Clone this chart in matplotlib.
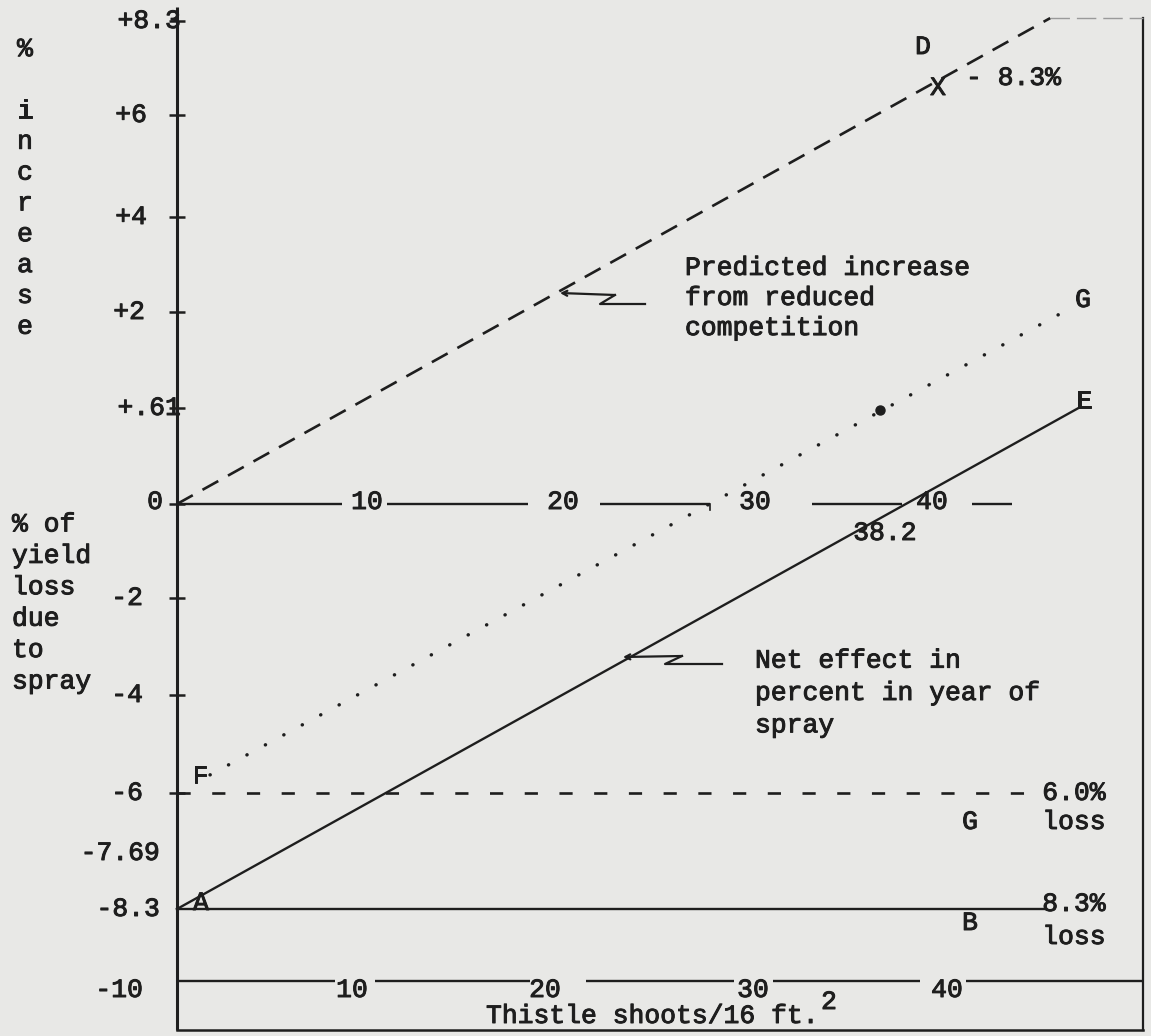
import numpy as np
import matplotlib
matplotlib.use("Agg")
import matplotlib.pyplot as plt
import matplotlib.patheffects as pe

# ---------------- data ----------------
y_tick_values = [8.3, 6, 4, 2, 0.61, 0, -2, -4, -6, -7.69, -8.3, -10]
y_tick_labels = ["+8.3", "+6", "+4", "+2", "+.61", "0", "-2", "-4", "-6", "-7.69", "-8.3", "-10"]
y_tick_marks = [8.3, 6, 4, 2, 0.61, 0, -2, -4, -6]

x_mid_ticks = [10, 20, 30, 40]
x_mid_labels = ["10", "20", "30", "40"]
x_bottom_ticks = [10, 20, 30, 40]
x_bottom_labels = ["10", "20", "30", "40"]

# predicted increase from reduced competition (line D)
pred_x = [0.0, 46.2]
pred_y = [0.0, 8.37]
# net effect in year of spray (line A-E)
net_x = [0.0, 47.7]
net_y = [-8.3, 0.61]
# line F-G
fg_x = [1.75, 46.9]
fg_y = [-5.63, 2.0]
fg_dot = (37.2, 0.6)
# break-even point
breakeven_x = 38.2
# horizontal loss levels
loss_levels = [-6.0, -8.3]
loss_ends = [45.6, 45.9]

# hand-drawn pieces of the two horizontal scale lines (thistle shoots)
zero_segments = [(0, 8.73), (11.11, 18.57), (22.38, 28.2), (33.6, 38.36), (42.06, 44.18)]
bottom_segments = [(0, 8.36), (10.48, 18.68), (21.64, 29.47), (31.53, 39.31), (41.75, 51.1)]

# ---------------- layout / style ----------------
W, H = 1151, 1036
X0, XS = 177.0, 18.9          # pixel of x=0, pixels per shoot
# the typed vertical scale is not uniform: value -> pixel row anchors
y_anchor_vals = [-11.31, -10, -8.3, -7.69, -6, -4, -2, 0, 0.61, 2, 4, 6, 8.3, 8.81]
y_anchor_px = [1036, 981, 909, 853, 793, 695, 598, 504, 408, 312, 217, 115, 21, 0]
_av = np.array(y_anchor_vals)
_ap = -np.array(y_anchor_px, dtype=float)


def fwd(v):
    return np.interp(v, _av, _ap)


def inv(u):
    return np.interp(u, _ap, _av)


def dx(px):
    return (px - X0) / XS


def dy(py):
    return float(inv(-py))


BG = "#e8e8e6"
INK = "#1e1e1e"
FONT = "Liberation Mono"
FS = 19
INKFX = [pe.withStroke(linewidth=0.7, foreground=INK)]

plt.rcParams["lines.scale_dashes"] = False
fig = plt.figure(figsize=(W / 100, H / 100), dpi=100, facecolor=BG)
ax = fig.add_axes([0, 0, 1, 1])
ax.set_facecolor(BG)
ax.set_yscale("function", functions=(fwd, inv))
ax.set_xlim(dx(0), dx(W))
ax.set_ylim(dy(H), dy(0))
for s in ax.spines.values():
    s.set_visible(False)
ax.set_xticks([])
ax.set_yticks([])

TXT = dict(family=FONT, fontsize=FS, color=INK, path_effects=INKFX)


def T(xp, yp, s, ha="center", va="center", **kw):
    fig.text(xp / W, 1 - yp / H, s, ha=ha, va=va, **TXT, **kw)


# frame: y axis, right edge, bottom edge
ax.plot([0, 0], [dy(7), dy(1030)], color=INK, lw=2.2, solid_capstyle="butt")
ax.plot([dx(1143), dx(1143)], [dy(18), dy(1030)], color=INK, lw=1.6)
ax.plot([0, dx(1143)], [dy(1030), dy(1030)], color=INK, lw=1.8)
ax.plot([dx(1050), dx(1143)], [dy(18), dy(18)], color="#9a9a9a", lw=1.0,
        dashes=(14, 5))

# tick marks on the y axis
ax.plot(np.zeros(len(y_tick_marks)), y_tick_marks, ls="none", marker="_",
        ms=11, mew=1.8, color=INK)

# y tick labels (typed, right edges in pixels)
lab_right_px = [181, 147, 147, 145, 181, 163, 143, 143, 143, 160, 160, 143]
lab_dy_px = [0, 0, 0, 0, 0, 2, 0, 0, 0, 0, 0, -9]
for v, s, rp, oy in zip(y_tick_values, y_tick_labels, lab_right_px, lab_dy_px):
    ax.annotate(s, xy=(0, v), xytext=(rp - X0, oy), textcoords="offset pixels",
                ha="right", va="center", **TXT)

# horizontal scale lines at 0 and -10
for a, b in zero_segments:
    ax.plot([a, b], [0, 0], color=INK, lw=1.7, solid_capstyle="butt")
for a, b in bottom_segments:
    ax.plot([a, b], [-10, -10], color=INK, lw=1.7, solid_capstyle="butt")
ax.plot([dx(710), dx(710)], [0, dy(510)], color=INK, lw=1.2)

mid_off = [1, 8, 11, -1]
for v, s, o in zip(x_mid_ticks, x_mid_labels, mid_off):
    ax.annotate(s, xy=(v, 0), xytext=(o, 2), textcoords="offset pixels",
                ha="center", va="center", **TXT)
bot_off = [-14, -10, 9, 14]
for v, s, o in zip(x_bottom_ticks, x_bottom_labels, bot_off):
    ax.annotate(s, xy=(v, -10), xytext=(o, -9), textcoords="offset pixels",
                ha="center", va="center", **TXT)
ax.annotate("38.2", xy=(breakeven_x, 0), xytext=(-14, -29), textcoords="offset pixels",
            ha="center", va="center", **TXT)

# loss levels
ax.plot([0, loss_ends[0]], [loss_levels[0]] * 2, color=INK, lw=1.9, dashes=(9.5, 15.5))
ax.plot([0, loss_ends[1]], [loss_levels[1]] * 2, color=INK, lw=1.7)

# main lines
ax.plot(pred_x, pred_y, color=INK, lw=1.9, dashes=(13, 8))
ax.plot(net_x, net_y, color=INK, lw=1.7)
ax.plot(fg_x, fg_y, color=INK, lw=2.5, dashes=(0.1, 15.0), dash_capstyle="round")
ax.plot([fg_dot[0]], [fg_dot[1]], marker="o", ms=6.5, color=INK, ls="none")

# leader arrows
pred_arrow = [(560, 293), (615, 295), (600, 304), (645, 304)]
net_arrow = [(623, 657), (682, 656), (665, 664), (722, 664)]
for pts in (pred_arrow, net_arrow):
    xs = [dx(p[0]) for p in pts]
    ys = [dy(p[1]) for p in pts]
    ax.plot(xs[1:], ys[1:], color=INK, lw=1.6)
    ax.annotate("", xy=(xs[0], ys[0]), xytext=(xs[1], ys[1]),
                arrowprops=dict(arrowstyle="->,head_length=0.35,head_width=0.18",
                                color=INK, lw=1.6, shrinkA=0, shrinkB=0))

# vertical axis captions
T(25, 188, "%\n\ni\nn\nc\nr\ne\na\ns\ne", ha="center", multialignment="center",
  linespacing=1.36)
T(12, 603, "% of\nyield\nloss\ndue\nto\nspray", ha="left", multialignment="left",
  linespacing=1.39)

# annotations
T(685, 298, "Predicted increase\nfrom reduced\ncompetition", ha="left",
  multialignment="left", linespacing=1.32)
T(755, 693, "Net effect in\npercent in year of\nspray", ha="left",
  multialignment="left", linespacing=1.44)
T(923, 47, "D")
T(938, 88, "X")
T(966, 78, "- 8.3%", ha="left")
T(1083, 300, "G")
T(1084, 401, "E")
T(200, 776, "F")
T(201, 903, "A")
T(1074, 793, "6.0%")
T(1074, 822, "loss")
T(970, 822, "G")
T(1074, 904, "8.3%")
T(1074, 937, "loss")
T(970, 923, "B")
T(486, 1016, "Thistle shoots/16 ft.", ha="left")
T(829, 1002, "2")

fig.savefig("out.png", dpi=100, facecolor=BG)
